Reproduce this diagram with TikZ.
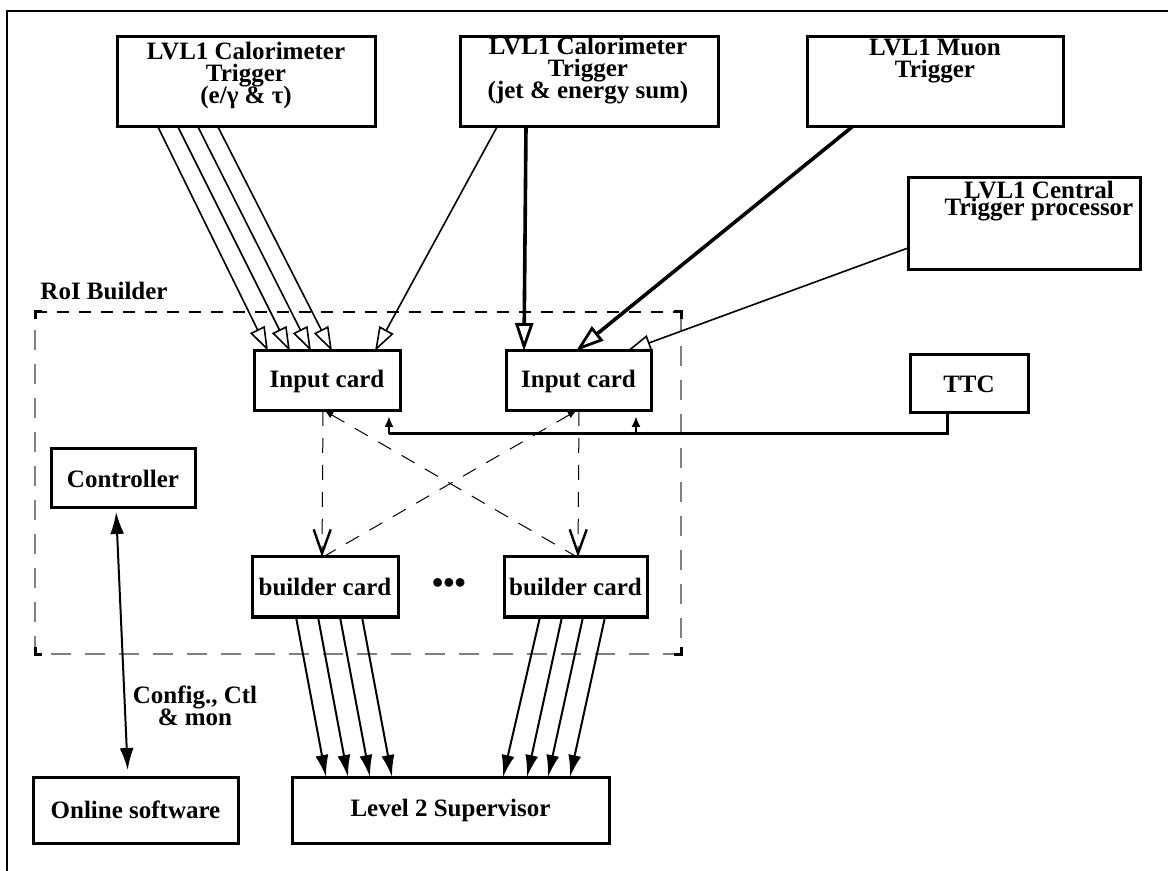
\documentclass[tikz,border=0pt]{standalone}
\usepackage{fontspec}
\setmainfont{Liberation Serif}
\usetikzlibrary{arrows.meta,calc}
\newcommand\tightlines{\lineskiplimit=-20pt\relax}
\begin{document}
\begin{tikzpicture}[x=0.5pt,y=-0.5pt,
  box/.style={draw, line width=1.5pt, inner sep=0pt, outer sep=0pt,
    font=\bfseries\fontsize{12.5pt}{11pt}\selectfont, align=center},
  lbl/.style={inner sep=0pt, outer sep=0pt, align=center,
    font=\bfseries\fontsize{12.5pt}{11pt}\selectfont\tightlines},
  thinarr/.style={line width=0.8pt,
    -{Triangle[open,length=12pt,width=8pt,line width=0.8pt]}},
  thickarr/.style={line width=1.8pt,
    -{Triangle[open,length=14pt,width=9pt,line width=1.4pt]}},
  dashar/.style={line width=0.5pt, dash pattern=on 7.5pt off 6pt,
    -{Straight Barb[length=12pt,width=8.5pt,line width=1.2pt]}},
  smalltip/.style={{Latex[length=4pt,width=3.5pt]}-},
  fillarr/.style={line width=1pt, -{Latex[length=11pt,width=6.5pt]}},
  ttcline/.style={line width=1.5pt},
  roitop/.style={line width=0.6pt, dash pattern=on 6pt off 5pt},
  roiside/.style={line width=0.7pt, gray, dash pattern=on 10pt off 7pt},
  corner/.style={line width=1.5pt}
]
\useasboundingbox (0,0) rectangle (1168,871);

% outer frame
\draw[line width=1pt] (7,871) -- (7,11) -- (1168,11);

% trigger sources
\node[box, minimum width=129pt, minimum height=45pt] (cal1) at (246,82) {};
\node[lbl, anchor=north] (cal1t) at (246,42) {LVL1 Calorimeter\\Trigger\\(e/γ \& τ)};
\node[box, minimum width=129pt, minimum height=45pt] (cal2) at (589,82) {};
\node[lbl, anchor=north] (cal2t) at (588,37) {LVL1 Calorimeter\\Trigger\\(jet \& energy sum)};
\node[box, minimum width=128pt, minimum height=45pt] (muon) at (935,82) {};
\node[lbl, anchor=north] (muont) at (935,39) {LVL1 Muon\\Trigger};
\node[box, minimum width=116pt, minimum height=46pt] (ctp) at (1024,224) {};
\node[lbl, anchor=north, font=\bfseries\fontsize{12.5pt}{8.5pt}\selectfont\tightlines]
  (ctpt) at (1039,181) {LVL1 Central\\Trigger processor};

% RoI builder frame
\draw[roitop] (35,312) -- (681,312);
\draw[roiside] (681,312) -- (681,654) -- (35,654) -- (35,312);
\draw[corner] (35,319) -- (35,312) -- (42,312);
\draw[corner] (674,312) -- (681,312) -- (681,319);
\draw[corner] (35,647) -- (35,654) -- (42,654);
\draw[corner] (674,654) -- (681,654) -- (681,647);
\node[lbl] (roilbl) at (104,291) {RoI Builder};

% cards
\node[box, minimum width=73pt, minimum height=30pt] (in1) at (327,381) {Input card};
\node[box, minimum width=72.5pt, minimum height=30pt] (in2) at (578.5,381) {Input card};
\node[box, minimum width=59pt, minimum height=29pt] (ttc) at (969,384) {TTC};
\node[box, minimum width=72pt, minimum height=29.5pt] (ctrl) at (123,478.5) {Controller};
\node[box, minimum width=73pt, minimum height=30pt] (b1) at (325,587) {builder card};
\node[box, minimum width=71.5pt, minimum height=30pt] (b2) at (575.5,587) {builder card};
\node[inner sep=0pt, font=\bfseries\fontsize{16pt}{16pt}\selectfont] (dots) at (449,586) {•••};
\node[box, minimum width=158.5pt, minimum height=33pt] (l2s) at (450.5,810) {Level 2 Supervisor};
\node[box, minimum width=102.5pt, minimum height=33pt] (online) at (135.5,810) {Online software};

% trigger links into the input cards
\foreach \s/\e in {41/14,61/36,81/57,101/78}
  \draw[thinarr] ($(cal1.south west)+(\s,0)$) -- ($(in1.north west)+(\e,0)$);
\draw[thinarr] ($(cal2.south west)+(37,0)$) -- ($(in1.north west)+(121,0)$);
\draw[thickarr] ($(cal2.south west)+(66,0)$) -- ($(in2.north west)+(18,0)$);
\draw[thickarr] ($(muon.south west)+(45,0)$) -- ($(in2.north west)+(70,0)$);
\draw[thinarr] ($(ctp.south west)+(0,-22)$) -- ($(in2.north west)+(121,0)$);

% timing distribution
\coordinate (tj1) at ($(in1.south west)+(135,23)$);
\coordinate (tj2) at ($(in2.south west)+(130,23)$);
\draw[ttcline] ($(ttc.south west)+(37,0)$) |- (tj1);
\draw[line width=1.2pt, -{Latex[length=5.5pt,width=4.5pt]}, shorten >=2.5pt]
  (tj1) -- ($(in1.south west)+(135,0)$);
\draw[line width=1.2pt, -{Latex[length=5.5pt,width=4.5pt]}, shorten >=2.5pt]
  (tj2) -- ($(in2.south west)+(130,0)$);

% input cards to builder cards
\draw[dashar] ($(in1.south west)+(69,0)$) -- ($(b1.north west)+(70,0)$);
\draw[dashar, smalltip] ($(in1.south west)+(71,0)$) -- ($(b2.north west)+(73,0)$);
\draw[dashar, smalltip] ($(in2.south west)+(70,0)$) -- ($(b1.north west)+(71,0)$);
\draw[dashar] ($(in2.south west)+(73,0)$) -- ($(b2.north west)+(74,0)$);

% builder cards to the supervisor
\foreach \s/\e in {44/34,66/56,88/78,110/100}
  \draw[fillarr] ($(b1.south west)+(\s,0)$) -- ($(l2s.north west)+(\e,0)$);
\foreach \s/\e in {36/211,58/235,79/256,101/278}
  \draw[fillarr] ($(b2.south west)+(\s,0)$) -- ($(l2s.north west)+(\e,0)$);

% control link
\draw[line width=1pt, {Latex[length=11pt,width=7pt]}-{Latex[length=11pt,width=7pt]},
  shorten <=2pt, shorten >=3.5pt]
  ($(ctrl.south west)+(65,0)$) -- ($(online.north west)+(95,0)$);
\node[lbl, anchor=north] (cfg) at (195,686) {Config., Ctl\\\& mon};
\end{tikzpicture}
\end{document}
